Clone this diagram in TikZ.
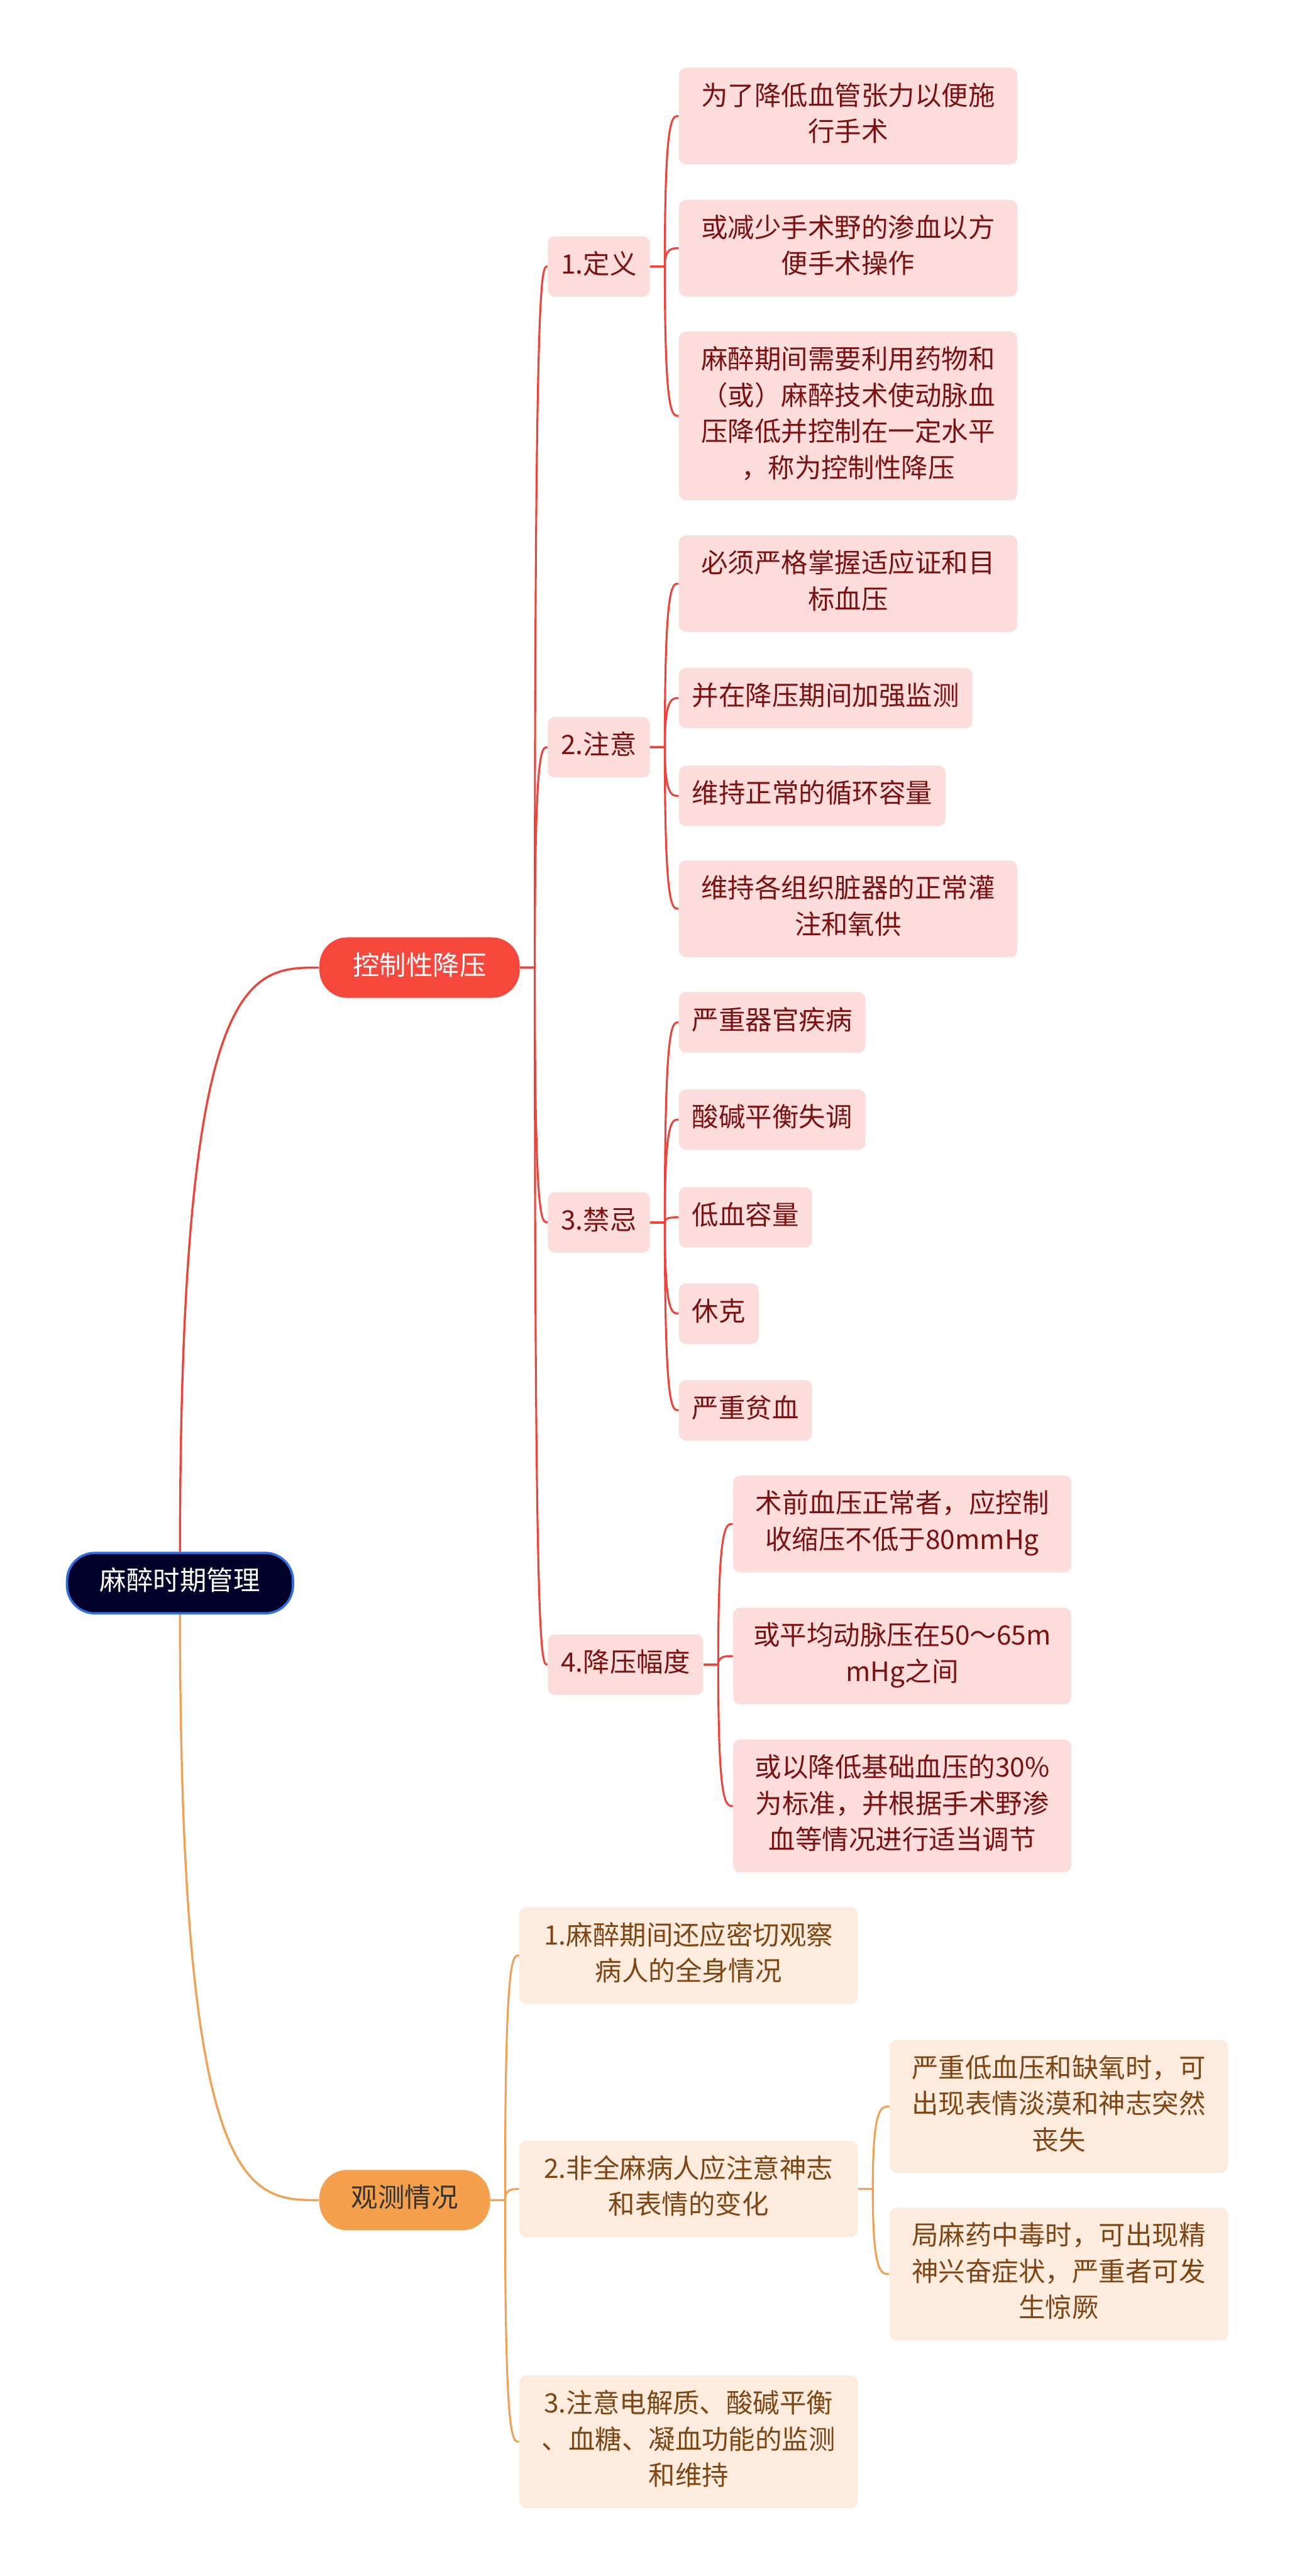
\documentclass[tikz,border=0pt]{standalone}
\usepackage{fontspec}
\newfontfamily\cjk{Noto Sans CJK SC}
\usepackage{xcolor}
\usepackage{tikz}
\usetikzlibrary{calc}
\definecolor{cNavy}{RGB}{  0,  0, 40}
\definecolor{cNavyBd}{RGB}{ 48,110,222}
\definecolor{cRed}{RGB}{245, 71, 60}
\definecolor{cRedLn}{RGB}{236, 68, 58}
\definecolor{cPink}{RGB}{253,220,220}
\definecolor{cWine}{RGB}{122, 18, 18}
\definecolor{cOrg}{RGB}{244,160, 76}
\definecolor{cOrgLn}{RGB}{240,162, 84}
\definecolor{cPeach}{RGB}{253,236,222}
\definecolor{cBrown}{RGB}{126, 70, 20}
\definecolor{cDark}{RGB}{ 51, 51, 51}
\tikzset{
  nb/.style    ={font=\cjk\fontsize{15}{20.3}\selectfont,inner xsep=2.6mm,inner ysep=2.4mm,
                 rounded corners=1.4mm,align=center,anchor=west,
                 execute at begin node=\strut,execute at end node=\strut},
  rootbox/.style={nb,fill=cNavy,draw=cNavyBd,line width=1.3pt,text=white,
                 rounded corners=5.5mm,inner xsep=6.5mm},
  topR/.style  ={nb,fill=cRed,text=white,rounded corners=5.5mm,inner xsep=6.6mm},
  topO/.style  ={nb,fill=cOrg,text=cDark,rounded corners=5.5mm,inner xsep=6.3mm},
  pk/.style    ={nb,fill=cPink,text=cWine},
  pc/.style    ={nb,fill=cPeach,text=cBrown},
  wide/.style  ={text width=61.6mm},
  lnR/.style   ={draw=cRedLn,line width=1.1pt},
  lnO/.style   ={draw=cOrgLn,line width=1.1pt},
}

\begin{document}
\begin{tikzpicture}[x=1cm,y=1cm]

\fill[white] (0,0) rectangle (25.60,-50.85);
\useasboundingbox (0,0) rectangle (25.60,-50.85);

%% ================= root and the two main topics =========================
\node[rootbox] (rt) at (1.30,-31.25) {麻醉时期管理};
\node[topR]    (kz) at (6.30,-19.10) {控制性降压};
\node[topO]    (gc) at (6.30,-43.43) {观测情况};

% the root connectors leave the top / bottom of the root box and bend
% into the topic's west side; second control sits half way to the end
\draw[lnR,line width=1.2pt] (rt.north) .. controls (rt.north |- kz.west)
  and ($(rt.north |- kz.west)!0.5!(kz.west)$) .. (kz.west);
\draw[lnO,line width=1.2pt] (rt.south) .. controls (rt.south |- gc.west)
  and ($(rt.south |- gc.west)!0.5!(gc.west)$) .. (gc.west);

% one branch: short stub out of the parent, then one curve per child
\def\brch#1#2#3{%
  \foreach \c in {#3}{
    \draw[#1] (#2.east) -- ++(0.29,0) coordinate (j)
      .. controls (j |- \c.west) and ($(j |- \c.west)!0.5!(\c.west)$) .. (\c.west);}}

%% ================= 控制性降压 ==========================================
\node[pk] (dy) at (10.81,-5.26)  {1.定义};
\node[pk] (zy) at (10.81,-14.75) {2.注意};
\node[pk] (jj) at (10.81,-24.13) {3.禁忌};
\node[pk] (jy) at (10.81,-32.86) {4.降压幅度};

% 1.定义
\node[pk,wide] (a1) at (13.40,-2.29) {为了降低血管张力以便施\\行手术};
\node[pk,wide] (a2) at (13.40,-4.90) {或减少手术野的渗血以方\\便手术操作};
\node[pk,wide] (a3) at (13.40,-8.21) {麻醉期间需要利用药物和\\（或）麻醉技术使动脉血\\压降低并控制在一定水平\\，称为控制性降压};

% 2.注意
\node[pk,wide] (b1) at (13.40,-11.52) {必须严格掌握适应证和目\\标血压};
\node[pk]      (b2) at (13.40,-13.78) {并在降压期间加强监测};
\node[pk]      (b3) at (13.40,-15.71) {维持正常的循环容量};
\node[pk,wide] (b4) at (13.40,-17.94) {维持各组织脏器的正常灌\\注和氧供};

% 3.禁忌
\node[pk] (c1) at (13.40,-20.18) {严重器官疾病};
\node[pk] (c2) at (13.40,-22.10) {酸碱平衡失调};
\node[pk] (c3) at (13.40,-24.03) {低血容量};
\node[pk] (c4) at (13.40,-25.93) {休克};
\node[pk] (c5) at (13.40,-27.84) {严重贫血};

% 4.降压幅度
\node[pk,wide] (d1) at (14.47,-30.08) {术前血压正常者，应控制\\收缩压不低于80mmHg};
\node[pk,wide] (d2) at (14.47,-32.69) {或平均动脉压在50～65m\\mHg之间};
\node[pk,wide] (d3) at (14.47,-35.65) {或以降低基础血压的30\%\\为标准，并根据手术野渗\\血等情况进行适当调节};

\brch{lnR}{kz}{dy,zy,jj,jy}
\brch{lnR}{dy}{a1,a2,a3}
\brch{lnR}{zy}{b1,b2,b3,b4}
\brch{lnR}{jj}{c1,c2,c3,c4,c5}
\brch{lnR}{jy}{d1,d2,d3}

%% ================= 观测情况 ============================================
\node[pc,wide] (e1) at (10.25,-38.60) {1.麻醉期间还应密切观察\\病人的全身情况};
\node[pc,wide] (e2) at (10.25,-43.21) {2.非全麻病人应注意神志\\和表情的变化};
\node[pc,wide] (e3) at (10.25,-48.20) {3.注意电解质、酸碱平衡\\、血糖、凝血功能的监测\\和维持};

\node[pc,wide] (f1) at (17.56,-41.58) {严重低血压和缺氧时，可\\出现表情淡漠和神志突然\\丧失};
\node[pc,wide] (f2) at (17.56,-44.89) {局麻药中毒时，可出现精\\神兴奋症状，严重者可发\\生惊厥};

\brch{lnO}{gc}{e1,e2,e3}
\brch{lnO}{e2}{f1,f2}

\end{tikzpicture}
\end{document}
